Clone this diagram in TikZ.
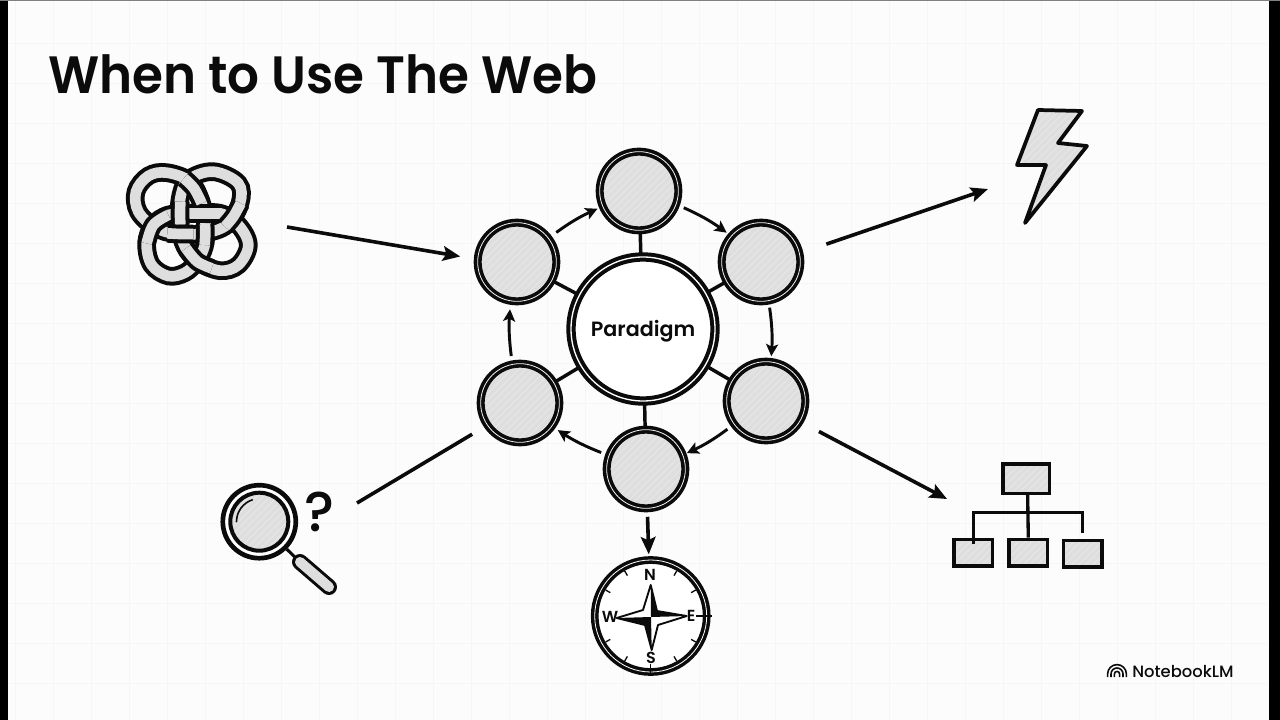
\documentclass[tikz,border=0pt]{standalone}
\usepackage{fontspec}
\setmainfont{Poppins}[BoldFont={Poppins SemiBold}]
\newfontfamily\brandfont{Poppins Medium}
\usetikzlibrary{arrows.meta,calc}
\definecolor{ink}{HTML}{0B0B0B}
\definecolor{tone}{HTML}{DEDEDE}
\definecolor{hatchc}{HTML}{EBEBEB}
\definecolor{paper}{HTML}{FCFCFC}
\definecolor{gridc}{HTML}{F6F6F6}
\newcommand{\hatchfill}{%
  \foreach \hk in {-16,...,16}{
    \draw[hatchc,line width=.5pt] ($(path picture bounding box.center)+(\hk*7-90,90)$) -- ++(180,-180);
  }}
\tikzset{
  x=0.75pt,y=-0.75pt,
  hatched/.style={fill=tone,path picture={\hatchfill}},
  ring/.style={circle,draw=ink,double=tone!40!white,double distance=.6pt,line width=2.7pt,inner sep=0pt},
  satellite/.style={ring,hatched,minimum size=59pt},
  hub/.style={circle,draw=ink,double=white,double distance=1pt,line width=3pt,fill=white,inner sep=0pt,minimum size=108pt},
  spoke/.style={draw=ink,line width=2.6pt},
  cyc/.style={draw=ink,line width=2.2pt,-{Stealth[length=9pt,width=9pt,inset=2pt]}},
  big/.style={draw=ink,line width=2.7pt,-{Stealth[length=13pt,width=11pt,inset=2.5pt]}},
  plain/.style={draw=ink,line width=2.7pt},
  box/.style={draw=ink,line width=2.5pt,hatched,rectangle,inner sep=0pt},
  bar/.style={draw=ink,line width=2.5pt},
  knotout/.style={draw=ink,line width=14pt},
  knotin/.style={draw=tone,line width=8pt},
  cardinal/.style={font=\bfseries\fontsize{12}{12}\selectfont,text=ink,inner sep=0pt},
  tick/.style={draw=ink,line width=1pt},
}
\newcommand{\kb}[1]{\draw[knotout] plot[smooth,tension=.6] coordinates {#1}; \draw[knotin] plot[smooth,tension=.6] coordinates {#1};}
\begin{document}
\begin{tikzpicture}
\useasboundingbox (0,0) rectangle (1280,720);
\fill[paper] (0,0) rectangle (1280,720);
\foreach \gx in {15,53,...,1268}{\draw[gridc,line width=.6pt] (\gx,0)--(\gx,720);}
\foreach \gy in {43,83,...,720}{\draw[gridc,line width=.6pt] (8,\gy)--(1268,\gy);}
\fill[black] (0,0) rectangle (8,720);
\fill[black] (1269,0) rectangle (1280,720);
\fill[gray] (0,0) rectangle (1280,1.2);

\node[anchor=base west,inner sep=0pt,text=ink,font=\bfseries\fontsize{37.5}{38}\selectfont] (title) at (48,94) {\scalebox{1}[1.05]{When to Use The Web}};

% web
\node[hub,font=\bfseries\fontsize{15.5}{15.5}\selectfont,text=ink] (hubc) at (643,329) {\raisebox{-5.8pt}[0pt][0pt]{Paradigm}};
\node[satellite] (top) at (639,191) {};
\node[satellite] (ur) at (761,262) {};
\node[satellite] (lr) at (766,401) {};
\node[satellite] (bot) at (646,469) {};
\node[satellite] (ll) at (520,403) {};
\node[satellite] (ul) at (517,262) {};
\foreach \s in {top,ur,lr,bot,ll,ul}{\draw[spoke] (hubc) -- (\s);}
\draw[cyc,shorten <=6pt,shorten >=3pt] (ul.37) to[bend left=6] (top.203);
\draw[cyc,shorten <=5pt,shorten >=3pt] (top.-20) to[bend left=6] (ur.139);
\draw[cyc,shorten <=4pt,shorten >=3pt] (ur.-79) to[bend left=6] (lr.83);
\draw[cyc,shorten <=5pt,shorten >=2pt] (lr.216) to[bend left=6] (bot.21);
\draw[cyc,shorten <=5pt,shorten >=4pt] (bot.160) to[bend left=6] (ll.-36);
\draw[cyc,shorten <=5pt,shorten >=5pt] (ll.101) to[bend left=6] (ul.-99);

% knot
\begin{scope}[shift={(110,150)},x=0.25pt,y=-0.25pt]
\def\kp{(287,230) (283,290) (260,335) (225,368) (175,378) (125,345) (110,280) (130,225) (175,195) (240,190) (330,190) (385,225) (415,285) (385,345) (330,362) (265,335) (225,290) (210,230) (210,150) (235,90) (310,65) (385,100) (390,160) (350,225) (280,250) (200,252) (135,232) (85,185) (78,125) (115,78) (170,68) (240,95) (275,160)}
\draw[knotout] plot[smooth cycle,tension=.6] coordinates {\kp};
\draw[knotin] plot[smooth cycle,tension=.6] coordinates {\kp};
\kb{(211,224) (210,190) (211,155)}
\kb{(240,190) (285,190) (330,190)}
\kb{(285,222) (286,250) (284,285)}
\kb{(172,250) (210,252) (250,252)}
\kb{(110,280) (130,225) (175,195)}
\kb{(222,85) (252,115) (275,160)}
\kb{(392,160) (370,200) (345,230)}
\kb{(305,355) (262,335) (228,295)}
\end{scope}
\coordinate (knotE) at (287,227);
\draw[big,shorten >=12pt] (knotE) -- (ul.176);

% bolt
\coordinate (boltW) at (988,189);
\draw[ink,line width=2.8pt,line join=round,hatched] (1038,110) -- (1082,111) -- (1058,143) -- (1087,146) -- (1025,223) -- (1046,165) -- (1017,165) -- cycle;
\draw[big,shorten <=20pt] (ur.13.6) -- (boltW);

% org
\node[box,minimum width=35pt,minimum height=22pt] (root) at (1026.3,478.7) {};
\node[box,minimum width=29pt,minimum height=20pt] (c1) at (973.3,552.7) {};
\node[box,minimum width=29pt,minimum height=20pt] (c2) at (1028.3,552.7) {};
\node[box,minimum width=29pt,minimum height=20pt] (c3) at (1082.8,553.7) {};
\coordinate (bL) at (973.3,512.3);
\coordinate (bR) at (1082.3,512.3);
\draw[bar] (root.south) ++(1pt,0) -- (c2.north);
\draw[bar] (c1.north) ++(0,-5pt) -- (bL) -- (bR) -- ++(0,21);
\coordinate (orgW) at (947,499);
\draw[big,shorten <=15pt] (lr.-31.4) -- (orgW);

% lens
\node[circle,draw=ink,line width=3.5pt,fill=white,minimum size=54.75pt,inner sep=0pt] (lensO) at (259.3,521.7) {};
\node[circle,draw=ink,line width=3pt,hatched,minimum size=43.5pt,inner sep=0pt] (lensI) at (259.3,521.7) {};
\draw[ink,line width=1.2pt,line cap=round] (236.5,521.7) arc[start angle=180,end angle=252,radius=23];
\coordinate (hA) at (300,562);
\coordinate (hB) at (329,587);
\draw[ink,line width=2.3pt] (lensO.-45) -- (hA);
\draw[ink,line width=12pt,line cap=round] (hA) -- (hB);
\draw[tone,line width=7.5pt,line cap=round] (hA) -- (hB);
\node[font=\brandfont\fontsize{42}{42}\selectfont,text=ink,inner sep=0pt] (qm) at (320,512) {?};
\coordinate (lensE) at (357,503);
\draw[plain,shorten >=12pt] (lensE) -- (ll.214);

% compass
\node[circle,draw=ink,double=white,double distance=.6pt,line width=2.6pt,fill=white,minimum size=84pt,inner sep=0pt] (comp) at (650.7,616) {};
\foreach \a in {30,60,120,150,210,240,300,330}{
  \draw[tick] ($(comp)+(\a:35pt)$) -- ($(comp)+(\a:39pt)$);}
\draw[tick] ($(comp)+(-90:36pt)$) -- ($(comp)+(-90:44pt)$);
\draw[tick] ($(comp)+(0:34pt)$) -- ($(comp)+(0:46pt)$);
\coordinate (sN) at (650.7,585);
\coordinate (sE) at (686.7,616);
\coordinate (sS) at (651.7,650);
\coordinate (sW) at (616.7,618);
\coordinate (c0) at (651,617);
\coordinate (iNE) at (657,611);
\coordinate (iSE) at (658,625);
\coordinate (iSW) at (645,625);
\coordinate (iNW) at (643,610);
\draw[ink,line width=1.4pt,fill=white,line join=round] (sN)--(iNE)--(sE)--(iSE)--(sS)--(iSW)--(sW)--(iNW)--cycle;
\fill[ink] (c0)--(sN)--(iNE)--(sE)--cycle;
\fill[ink] (c0)--(sS)--(iSW)--(sW)--cycle;
\node[cardinal] (nN) at (650,575) {N};
\node[cardinal] (nE) at (691,616) {E};
\node[cardinal] (nS) at (651,658) {S};
\node[cardinal] (nW) at (610,617) {W};
\draw[big,shorten <=5pt,shorten >=3pt] (bot) -- (comp);

% logo
\foreach \lr in {2.6,6,9.4}{
  \draw[ink,line width=1.2pt] (1117-\lr,677) -- ++(0,-3) arc[start angle=180,end angle=360,radius=\lr] -- ++(0,3);}
\node[anchor=base west,inner sep=0pt,text=ink,font=\brandfont\fontsize{12.3}{12.3}\selectfont] (brand) at (1132,677) {NotebookLM};
\end{tikzpicture}
\end{document}
